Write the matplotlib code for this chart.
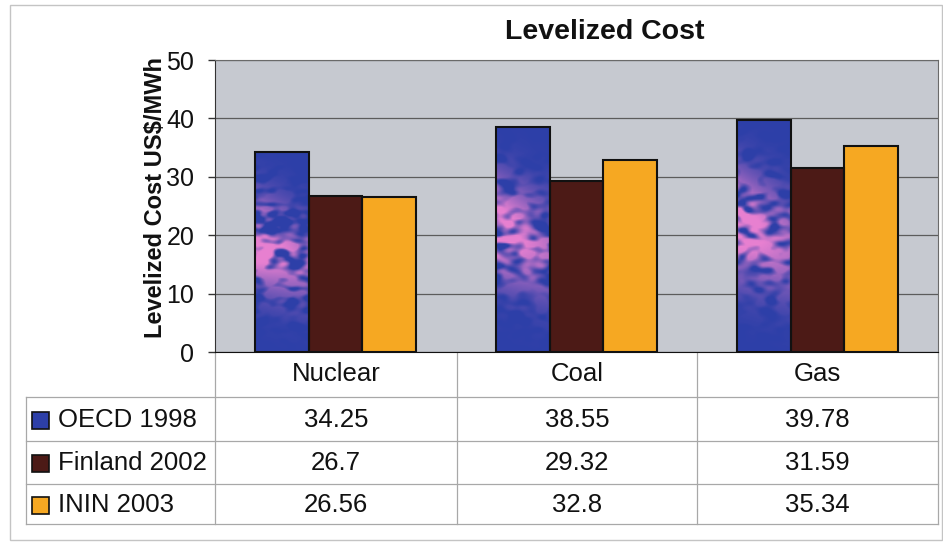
import numpy as np
import matplotlib
matplotlib.use("Agg")
import matplotlib.pyplot as plt
from matplotlib.patches import Rectangle

plt.rcParams['font.family'] = ['Liberation Sans', 'DejaVu Sans']

categories = ['Nuclear', 'Coal', 'Gas']
series = ['OECD 1998', 'Finland 2002', 'ININ 2003']
oecd_1998 = [34.25, 38.55, 39.78]
finland_2002 = [26.7, 29.32, 31.59]
inin_2003 = [26.56, 32.8, 35.34]
yticks = [0, 10, 20, 30, 40, 50]

values = [oecd_1998, finland_2002, inin_2003]
colors = ['#2d3fa8', '#4c1a16', '#f6a822']
W, H = 943, 543

fig = plt.figure(figsize=(W / 100, H / 100), dpi=100)

# overlay in pixel coordinates for the data table, frame and title
ov = fig.add_axes([0, 0, 1, 1])
ov.set_xlim(0, W)
ov.set_ylim(H, 0)
ov.axis('off')

px_left, px_right, px_top, px_zero = 215, 938, 60, 352
ax = fig.add_axes([px_left / W, 1 - px_zero / H,
                   (px_right - px_left) / W, (px_zero - px_top) / H])
ax.set_facecolor('#c6c9d0')
ax.set_xlim(-0.5, 2.5)
ax.set_ylim(0, 50)
ax.set_yticks(yticks)
ax.set_xticks([])
ax.set_axisbelow(True)
ax.yaxis.grid(True, color='#5c5c5c', lw=0.9)
ax.tick_params(axis='y', length=5, width=1, color='#333333', pad=10,
               labelsize=18, labelcolor='#111111')
ax.spines['left'].set_color('#333333')
ax.spines['bottom'].set_color('#111111')
ax.spines['top'].set_color('#6a6a6a')
ax.spines['right'].set_color('#6a6a6a')


def pink_clouds(seed, rows=160, cols=40):
    # streaky pink haze used as the fill texture of the blue bars
    rng = np.random.default_rng(seed)
    n = rng.random((rows, cols))
    for _ in range(4):
        n = (n + np.roll(n, 1, 1) + np.roll(n, -1, 1) + np.roll(n, 2, 1) + np.roll(n, -2, 1)) / 5
        n = (n + np.roll(n, 1, 0) + np.roll(n, -1, 0)) / 3
    n = (n - n.min()) / (n.max() - n.min())
    u = np.linspace(0, 1, cols)[None, :]
    v = np.linspace(0, 1, rows)[:, None]
    env = np.exp(-((v - (0.55 - 0.1 * u)) / 0.22) ** 2) * (1 - 0.4 * u)
    alpha = np.clip((n - 0.32) * 3.0, 0, 1) * env
    img = np.zeros((rows, cols, 4))
    img[..., 0] = 0.95
    img[..., 1] = 0.52
    img[..., 2] = 0.83
    img[..., 3] = np.clip(alpha * 1.2, 0, 0.95)
    return img


bw = 0.224
x = np.arange(len(categories))
for i, (vals, col) in enumerate(zip(values, colors)):
    bars = ax.bar(x + (i - 1) * bw, vals, bw, color=col, zorder=2, lw=0)
    if i == 0:
        for k, b in enumerate(bars):
            x0, h = b.get_x(), b.get_height()
            im = ax.imshow(pink_clouds(7 + k), extent=[x0, x0 + bw, 0, h],
                           origin='lower', aspect='auto', zorder=2.5,
                           interpolation='bilinear')
            im.set_clip_path(b)
    ax.bar(x + (i - 1) * bw, vals, bw, fill=False, edgecolor='#111111',
           lw=1.5, zorder=3)
ax.set_xlim(-0.5, 2.5)
ax.set_ylim(0, 50)

# title and axis label
fig.text(605 / W, 1 - 32 / H, 'Levelized Cost', ha='center', va='center',
         fontsize=20.5, fontweight='bold', color='#111111')
fig.text(155 / W, 1 - 198 / H, 'Levelized Cost US$/MWh', ha='center',
         va='center', rotation=90, fontsize=17, fontweight='bold',
         color='#111111')

# data table under the axis
col_edges = [215, 457, 697, 938]
row_lines = [397, 441, 484, 524]
row_centres = [420, 463, 505]
line_kw = dict(color='#a8a8a8', lw=0.9)
for xe in col_edges:
    ov.plot([xe, xe], [px_zero, row_lines[-1]], **line_kw)
ov.plot([26, 26], [row_lines[0], row_lines[-1]], **line_kw)
for yl in row_lines:
    ov.plot([26, 938], [yl, yl], **line_kw)

for j, cat in enumerate(categories):
    cx = (col_edges[j] + col_edges[j + 1]) / 2
    ov.text(cx, 374, cat, ha='center', va='center', fontsize=18.5, color='#111111')
    for i in range(len(series)):
        ov.text(cx, row_centres[i], f'{values[i][j]:g}', ha='center',
                va='center', fontsize=18.5, color='#111111')

for i, name in enumerate(series):
    yc = row_centres[i]
    ov.add_patch(Rectangle((32, yc - 8.5), 17, 17, facecolor=colors[i],
                           edgecolor='#111111', lw=1.2))
    ov.text(58, yc, name, ha='left', va='center', fontsize=18.5, color='#111111')

# outer chart frame
ov.add_patch(Rectangle((10, 5), 932, 535, fill=False, edgecolor='#c4c4c4', lw=1))

fig.savefig('out.png', dpi=100)
